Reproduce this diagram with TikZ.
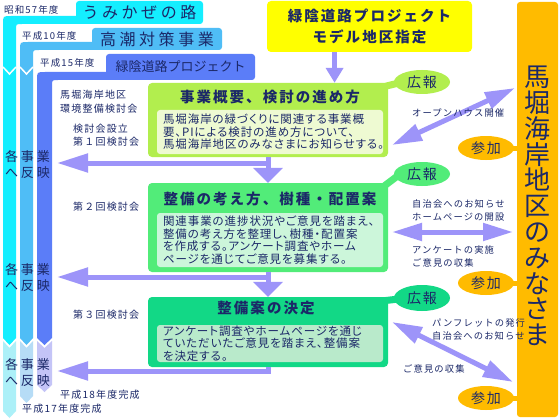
\documentclass[tikz,border=0pt]{standalone}
\usepackage{fontspec}
\setmainfont{Noto Sans CJK JP}
\newfontfamily\jpsp[LetterSpace=12]{Noto Sans CJK JP}
\newfontfamily\jpmid[LetterSpace=14]{Noto Sans CJK JP}
\newfontfamily\jpwide[LetterSpace=22]{Noto Sans CJK JP}
\newfontfamily\jpbody[LetterSpace=8,RawFeature=+palt]{Noto Sans CJK JP}
\usepackage{xcolor}
\usetikzlibrary{arrows.meta,positioning,shapes.geometric,calc}

\definecolor{ink}{HTML}{1B2868}
\definecolor{bandA}{HTML}{14EEFF}
\definecolor{bandB}{HTML}{4FBDF6}
\definecolor{bandC}{HTML}{5B7DF8}
\definecolor{paleA}{HTML}{ACF0F8}
\definecolor{paleB}{HTML}{B6DCF6}
\definecolor{paleC}{HTML}{C4C4F7}
\definecolor{lav}{HTML}{9D94F9}
\definecolor{projY}{HTML}{FFFF00}
\definecolor{amber}{HTML}{FFBB00}
\definecolor{stepA}{HTML}{B2EE4E}
\definecolor{stepB}{HTML}{52EC79}
\definecolor{stepC}{HTML}{12D886}
\definecolor{innerA}{HTML}{EEFAD2}
\definecolor{innerB}{HTML}{CCF6DA}
\definecolor{innerC}{HTML}{B9EACB}

\begin{document}
\begin{tikzpicture}[x=1pt, y=-1pt,
    every node/.style={text=ink, inner sep=0pt},
    yr/.style={anchor=west, font=\jpsp\fontsize{9.5}{11}\selectfont},
    note/.style={anchor=west, align=left, font=\jpsp\fontsize{9.3}{13}\selectfont},
    side/.style={anchor=west, align=left, font=\jpsp\fontsize{10}{13.5}\selectfont},
    bandtitle/.style={rectangle, rounded corners=3pt, font=\jpwide\fontsize{16}{18}\selectfont},
    stepbox/.style={rectangle, rounded corners=4pt, minimum width=240pt},
    steptitle/.style={font=\jpmid\bfseries\fontsize{14.5}{16}\selectfont},
    stepbody/.style={rectangle, rounded corners=3pt, minimum width=226pt, text width=214pt, align=left, font=\jpbody\fontsize{11.5}{12.6}\selectfont},
    bubble/.style={ellipse, minimum width=56pt, minimum height=24pt, font=\jpmid\fontsize{14}{16}\selectfont},
    reflabel/.style={align=left, font=\jpwide\fontsize{13}{16}\selectfont},
    flowarrow/.style={draw=lav, line width=5pt, -{Triangle[length=15pt,width=29pt]}},
    backarrow/.style={draw=lav, line width=5pt, -{Triangle[length=31pt,width=18pt]}},
    talkarrow/.style={draw=lav, line width=5pt, {Triangle[length=30pt,width=17pt]}-{Triangle[length=30pt,width=17pt]}}
]
    \fill[white] (0,0) rectangle (560,420);
    \useasboundingbox (0,0) rectangle (560,420);

    % the three projects
    \fill[bandA] (3,338) -- (3,24) .. controls (3,16) .. (11,16) -- (80,16) -- (80,24) -- (22,24) .. controls (16,24) .. (16,30) -- (16,338) -- (9.5,345) -- cycle;
    \fill[bandB] (20,338) -- (20,50) .. controls (20,42) .. (28,42) -- (96,42) -- (96,50) -- (39,50) .. controls (33,50) .. (33,56) -- (33,338) -- (26.5,345) -- cycle;
    \fill[bandC] (37,338) -- (37,80) .. controls (37,72) .. (45,72) -- (110,72) -- (110,80) -- (58,80) .. controls (52,80) .. (52,86) -- (52,338) -- (44.5,345) -- cycle;
    \draw[white, line width=1.5pt] (3,67) -- (9.5,74) -- (16,67) (20,67) -- (26.5,74) -- (33,67);
    \fill[paleA] (3,341) -- (9.5,348) -- (16,341) -- (16,411) -- (9.5,418) -- (3,411) -- cycle;
    \fill[paleB] (20,341) -- (26.5,348) -- (33,341) -- (33,396) -- (26.5,403) -- (20,396) -- cycle;
    \fill[paleC] (37,341) -- (44.5,348) -- (52,341) -- (52,385) -- (44.5,392) -- (37,385) -- cycle;

    \node[bandtitle, fill=bandA, minimum width=127pt, minimum height=23pt] (umi) at (139.5,12.5) {うみかぜの路};
    \node[bandtitle, fill=bandB, minimum width=130pt, minimum height=22pt] (taka) at (157,39) {高潮対策事業};
    \node[bandtitle, fill=bandC, minimum width=149pt, minimum height=26pt, font=\fontsize{13}{15}\selectfont] (ryoku) at (180.5,67) {緑陰道路プロジェクト};
    \node[yr] (y57) at (4,10) {昭和57年度};
    \node[yr] (y10) at (22,36) {平成10年度};
    \node[yr] (y15) at (40,63) {平成15年度};
    \node[yr, font=\jpsp\fontsize{10}{11}\selectfont] (end18) at (60,395) {平成18年度完成};
    \node[yr, font=\jpsp\fontsize{10}{11}\selectfont] (end17) at (22,409) {平成17年度完成};

    % steps
    \node[rectangle, rounded corners=4pt, fill=projY, minimum width=205pt, minimum height=51pt, align=center, font=\jpmid\bfseries\fontsize{14.5}{21}\selectfont] (proj) at (369.5,26.5) {緑陰道路プロジェクト\\モデル地区指定};

    \node[stepbox, fill=stepA, minimum height=74pt] (step1) at (268,120) {};
    \node[steptitle] (title1) at (270,97) {事業概要、検討の進め方};
    \node[stepbody, fill=innerA, minimum height=44pt] (body1) at (270,132) {馬堀海岸の緑づくりに関連する事業概\\要、PIによる検討の進め方について、\\馬堀海岸地区のみなさまにお知らせする。};

    \node[stepbox, fill=stepB, minimum height=89pt] (step2) at (268,227.5) {};
    \node[steptitle] (title2) at (270,199) {整備の考え方、樹種・配置案};
    \node[stepbody, fill=innerB, minimum height=54pt] (body2) at (270,240) {関連事業の進捗状況やご意見を踏まえ、\\整備の考え方を整理し、樹種・配置案\\を作成する。アンケート調査やホーム\\ページを通じてご意見を募集する。};

    \node[stepbox, fill=stepC, minimum height=70pt] (step3) at (268,332) {};
    \node[steptitle] (title3) at (266,308) {整備案の決定};
    \node[stepbody, fill=innerC, minimum height=37pt] (body3) at (270,343.5) {アンケート調査やホームページを通じ\\ていただいたご意見を踏まえ、整備案\\を決定する。};

    \node[bubble, fill=stepA] (pr1) at (422,82) {広報};
    \node[bubble, fill=stepB] (pr2) at (422,174) {広報};
    \node[bubble, fill=stepC, minimum height=26pt] (pr3) at (422,298) {広報};
    \draw[stepA, line width=7pt] ($(step1.north east)+(-5,4)$) -- ($(pr1.west)+(5,1)$);
    \draw[stepB, line width=7pt] ($(step2.north east)+(-5,4)$) -- ($(pr2.west)+(5,1)$);
    \draw[stepC, line width=7pt] ($(step3.north east)+(-5,4)$) -- ($(pr3.west)+(5,1)$);

    % residents
    \node[rectangle, rounded corners=3pt, fill=amber, minimum width=41pt, minimum height=415pt] (col) at (537.5,209.5) {};
    \node[align=center, font=\fontsize{26}{25.8}\selectfont] (folk) at (537.5,206) {馬\\堀\\海\\岸\\地\\区\\の\\み\\な\\さ\\ま};
    \node[bubble, fill=amber] (join1) at (486,148) {参加};
    \node[bubble, fill=amber] (join2) at (486,283) {参加};
    \node[bubble, fill=amber] (join3) at (486,398) {参加};
    \draw[amber, line width=5pt] ($(join1.east)+(-4,0)$) -- (join1.east -| col.west);
    \draw[amber, line width=5pt] ($(join2.east)+(-4,0)$) -- (join2.east -| col.west);
    \draw[amber, line width=5pt] ($(join3.east)+(-4,0)$) -- (join3.east -| col.west);

    % flow
    \coordinate (d0) at ($(proj.south west)!0.33!(proj.south east)$);
    \draw[draw=lav, line width=5pt, -{Triangle[length=15pt,width=17pt]}] (d0) -- (d0 |- step1.north);
    \draw[flowarrow] (step1.south) -- (step2.north);
    \draw[flowarrow] (step2.south) -- (step3.north);
    \coordinate (r1) at (57,163);
    \coordinate (r2) at (57,277);
    \coordinate (r3) at (57,371);
    \draw[backarrow] (step1.south |- r1) -- (r1);
    \draw[backarrow] (step2.south |- r2) -- (r2);
    \draw[backarrow] (step3.south) |- (r3);

    \coordinate (oh1) at (392,145);
    \coordinate (oh2) at (515,88);
    \coordinate (hp1) at (392,232);
    \coordinate (hp2) at (513,232);
    \coordinate (pf1) at (392,322);
    \coordinate (pf2) at (513,382);
    \draw[talkarrow] (oh1) -- (oh2);
    \draw[talkarrow] (hp1) -- (hp2);
    \draw[talkarrow] (pf1) -- (pf2);

    \node[reflabel] (ref1) at (27.5,165) {各事業\\へ反映};
    \node[reflabel] (ref2) at (27.5,277.5) {各事業\\へ反映};
    \node[reflabel] (ref3) at (27.5,372.5) {各事業\\へ反映};

    \node[side] (council) at (60,101.5) {馬堀海岸地区\\環境整備検討会};
    \node[side] (mtg1) at (73,135) {検討会設立\\第１回検討会};
    \node[side] (mtg2) at (73,207) {第２回検討会};
    \node[side] (mtg3) at (73,315) {第３回検討会};

    \node[note] (lb1) at (412,113) {オープンハウス開催};
    \node[note] (lb2) at (412,210.5) {自治会へのお知らせ\\ホームページの開設};
    \node[note] (lb3) at (412,256.5) {アンケートの実施\\ご意見の収集};
    \node[note] (lb4) at (432,329) {パンフレットの発行\\自治会へのお知らせ};
    \node[note] (lb5) at (403,369) {ご意見の収集};
\end{tikzpicture}
\end{document}
